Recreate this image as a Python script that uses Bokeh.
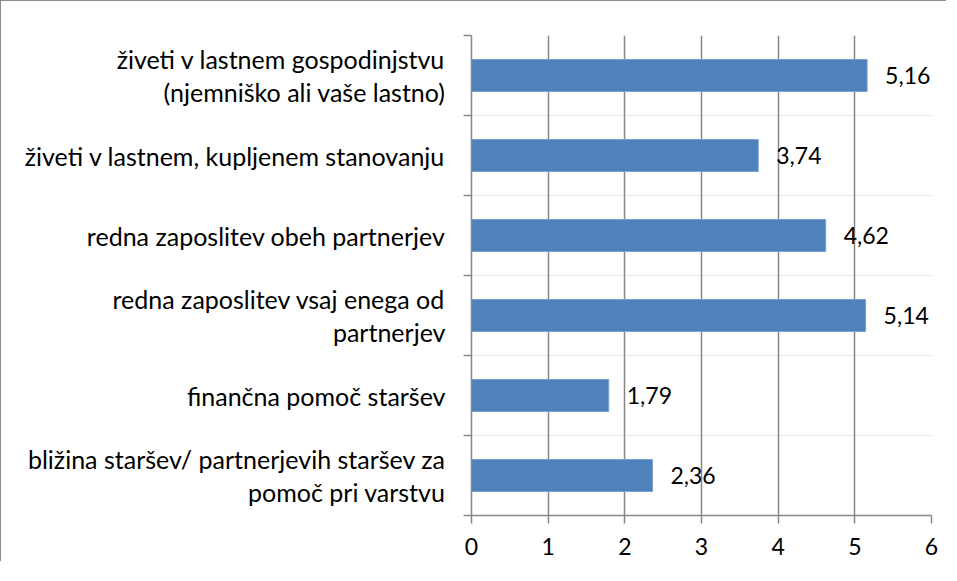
from bokeh.plotting import figure
from bokeh.models import (Range1d, LinearAxis, FixedTicker, ColumnDataSource, Grid)
from bokeh.core.properties import value
from bokeh.embed import file_html
from bokeh.resources import INLINE

categories = [
    "živeti v lastnem gospodinjstvu\n(njemniško ali vaše lastno)",
    "živeti v lastnem, kupljenem stanovanju",
    "redna zaposlitev obeh partnerjev",
    "redna zaposlitev vsaj enega od\npartnerjev",
    "finančna pomoč staršev",
    "bližina staršev/ partnerjevih staršev za\npomoč pri varstvu",
]
values = [5.16, 3.74, 4.62, 5.14, 1.79, 2.36]
x_ticks = [0, 1, 2, 3, 4, 5, 6]

n = len(categories)
labels = [f"{v:.2f}".replace(".", ",") for v in values]
ypos = [n - i - 0.5 for i in range(n)]          # category centres, top to bottom
bounds = list(range(n + 1))                      # category boundaries

FONT = "Lato"
FS_CAT = "25px"
FS = "23px"
GRAY = "#878787"
W, H = 946, 561

src = ColumnDataSource(dict(y=ypos, val=values, lab=labels))

p = figure(width=W, height=H,
           y_range=Range1d(0, n),
           x_range=Range1d(x_ticks[0], x_ticks[-1]),
           output_backend="svg", toolbar_location=None,
           x_axis_location=None, y_axis_location=None,
           min_border_left=470, min_border_right=16,
           min_border_top=34, min_border_bottom=H - 514)
p.outline_line_color = None
p.background_fill_color = "white"
p.border_fill_color = "white"
p.styles = {"border-left": "1px solid #8c8c8c", "border-top": "1px solid #8c8c8c"}

# vertical grid
p.add_layout(Grid(dimension=0, ticker=FixedTicker(ticks=x_ticks),
                  grid_line_color=GRAY, grid_line_width=1.5))

# bottom axis
xa = LinearAxis(ticker=FixedTicker(ticks=x_ticks), major_tick_out=8, major_tick_in=0,
                minor_tick_line_color=None, axis_line_color=GRAY, axis_line_width=1.5,
                major_tick_line_color=GRAY, major_tick_line_width=1.5,
                major_label_text_font=FONT, major_label_text_font_size=FS,
                major_label_text_color="black", major_label_standoff=14)
p.add_layout(xa, "below")

# left boundary-tick axis
ya1 = LinearAxis(ticker=FixedTicker(ticks=bounds),
                 major_label_overrides={b: "" for b in bounds},
                 major_tick_out=8, major_tick_in=0, minor_tick_line_color=None,
                 axis_line_color=GRAY, axis_line_width=1.5,
                 major_tick_line_color=GRAY, major_tick_line_width=1.5,
                 major_label_standoff=0)
p.add_layout(ya1, "left")

# left category label axis
ya2 = LinearAxis(ticker=FixedTicker(ticks=ypos),
                 major_label_overrides={y: c for y, c in zip(ypos, categories)},
                 axis_line_color=None, major_tick_line_color=None,
                 minor_tick_line_color=None,
                 major_label_text_font=FONT, major_label_text_font_size=FS_CAT,
                 major_label_text_line_height=1.1,
                 major_label_text_color="black", major_label_standoff=12)
p.add_layout(ya2, "left")

p.hbar(y="y", right="val", left=0, height=0.4, source=src,
       fill_color="#4F81BD", line_color="#7A9FD0", line_width=1)

p.text(x="val", y="y", text="lab", source=src, x_offset=18,
       text_baseline="middle", text_align="left",
       text_font=value(FONT), text_font_size=FS, text_color="black")

open("out.html", "w").write(file_html(p, INLINE))
